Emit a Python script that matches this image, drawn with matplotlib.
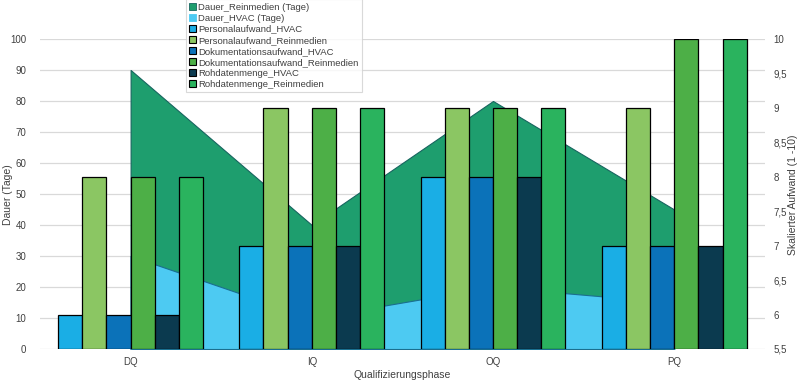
import matplotlib
matplotlib.use("Agg")
import matplotlib.pyplot as plt
from matplotlib.patches import Patch
import numpy as np

phases = ["DQ", "IQ", "OQ", "PQ"]
dauer_reinmedien = [90, 40, 80, 45]
dauer_hvac = [30, 10, 20, 15]
personal_hvac = [6, 7, 8, 7]
personal_rein = [8, 9, 9, 9]
doku_hvac = [6, 7, 8, 7]
doku_rein = [8, 9, 9, 10]
roh_hvac = [6, 7, 8, 7]
roh_rein = [8, 9, 9, 10]

bar_series = [
    ("Personalaufwand_HVAC", personal_hvac, "#1AAEE5"),
    ("Personalaufwand_Reinmedien", personal_rein, "#8BC663"),
    ("Dokumentationsaufwand_HVAC", doku_hvac, "#0B72B9"),
    ("Dokumentationsaufwand_Reinmedien", doku_rein, "#4DAF47"),
    ("Rohdatenmenge_HVAC", roh_hvac, "#0B3A4F"),
    ("Rohdatenmenge_Reinmedien", roh_rein, "#2AB35E"),
]
c_area_rein = "#1E9E6E"
c_area_hvac = "#4DCAF2"

plt.rcParams['font.family'] = ['Liberation Sans', 'DejaVu Sans']

fig = plt.figure(figsize=(8, 3.82), dpi=100)
ax1 = fig.add_axes([0.05, 0.0864, 0.906, 0.8116])
x = np.arange(len(phases))

ax1.fill_between(x, 0, dauer_reinmedien, color=c_area_rein, edgecolor="#17655F", linewidth=0.8, zorder=2)
ax1.fill_between(x, 0, dauer_hvac, color=c_area_hvac, edgecolor="#1A6F8F", linewidth=0.8, zorder=3)
ax1.set_ylim(0, 100)
ax1.set_xlim(-0.5, 3.5)
ax1.set_yticks(np.arange(0, 101, 10))
ax1.grid(axis='y', color="#D9D9D9", linewidth=0.9)
ax1.set_axisbelow(True)
for s in ax1.spines.values():
    s.set_visible(False)
ax1.tick_params(axis='y', length=0, labelsize=7, colors="#404040", pad=10)
ax1.tick_params(axis='x', length=0, labelsize=7, colors="#404040", pad=6)
ax1.set_xticks(x)
ax1.set_xticklabels(phases)

ax2 = ax1.twinx()
w = 0.8 / 6
for i, (name, vals, col) in enumerate(bar_series):
    ax2.bar(x + (i - 2.5) * w, np.array(vals) - 5.5, bottom=5.5, width=w,
            color=col, edgecolor="black", linewidth=0.9, zorder=3)
ax2.set_ylim(5.5, 10)
ax2.set_yticks(np.arange(5.5, 10.01, 0.5))
ax2.set_yticklabels([("%g" % v).replace(".", ",") for v in np.arange(5.5, 10.01, 0.5)])
for s in ax2.spines.values():
    s.set_visible(False)
ax2.tick_params(axis='y', length=0, labelsize=7, colors="#404040", pad=6)

fig.text(8 / 800, 1 - 195 / 382, "Dauer (Tage)", rotation=90, ha="center", va="center",
         fontsize=7.5, color="#404040")
fig.text(793 / 800, 1 - 195 / 382, "Skalierter Aufwand (1 -10)", rotation=90, ha="center",
         va="center", fontsize=7.5, color="#404040")
fig.text(0.5025, 1 - 375 / 382, "Qualifizierungsphase", ha="center", va="center",
         fontsize=7.5, color="#404040")

handles = [Patch(facecolor=c_area_rein, edgecolor="#17655F", linewidth=0.6),
           Patch(facecolor=c_area_hvac, edgecolor="#4DCAF2", linewidth=0.6)]
handles += [Patch(facecolor=c, edgecolor="black", linewidth=0.8) for _, _, c in bar_series]
labels = ["Dauer_Reinmedien (Tage)", "Dauer_HVAC (Tage)"] + [n for n, _, _ in bar_series]
leg = fig.legend(handles, labels, loc="upper left", bbox_to_anchor=(0.232, 1.002),
                 fontsize=6.8, frameon=True, fancybox=False, edgecolor="#D0D0D0",
                 handlelength=0.7, handleheight=0.7, handletextpad=0.3,
                 labelspacing=0.22, borderpad=0.35, borderaxespad=0)
leg.get_frame().set_linewidth(0.8)
for t in leg.get_texts():
    t.set_color("#404040")

fig.savefig("out.png", dpi=100)
